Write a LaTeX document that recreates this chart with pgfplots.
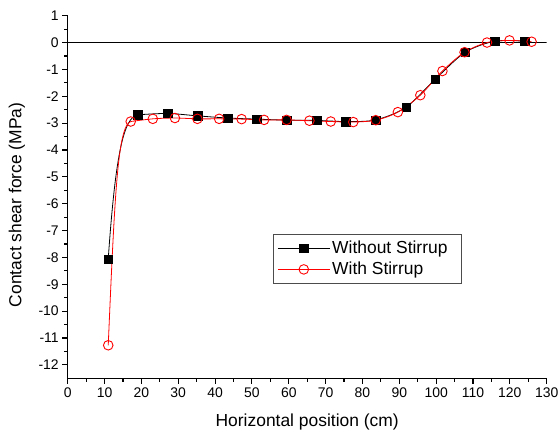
\documentclass[border=0pt]{standalone}
\usepackage{pgfplots}
\pgfplotsset{compat=1.18}
\usepackage{fontspec}
\setmainfont{Liberation Sans}
\begin{document}
\begin{tikzpicture}
\path[use as bounding box] (-67.7bp,-54.7bp) rectangle (491.3bp,378.3bp);
\begin{axis}[
  at={(0,0)}, anchor=south west,
  scale only axis,
  width=479bp, height=362.6bp,
  xmin=0, xmax=130, ymin=-12.5, ymax=1,
  xtick={0,10,...,130}, ytick={-12,-11,...,1},
  minor x tick num=1, minor y tick num=1,
  axis x line*=bottom, axis y line*=left,
  tick align=outside,
  major tick length=5.5bp, minor tick length=3.2bp,
  axis line style={line width=1.4bp},
  every tick/.style={line width=1.1bp, black},
  /pgf/number format/assume math mode=true,
  tick label style={font=\fontsize{14}{16}\selectfont},
  xlabel={Horizontal position (cm)},
  ylabel={Contact shear force (MPa)},
  label style={font=\fontsize{17.5}{20}\selectfont},
  xlabel style={at={(axis description cs:0.5,-0.1205)}, anchor=center},
  ylabel style={at={(axis description cs:-0.106,0.478)}, anchor=center, rotate=0},
  legend style={at={(0.4286,0.397)}, anchor=north west, draw=black!70, line width=0.8bp,
    font=\fontsize{17.5}{20}\selectfont, inner xsep=4bp, inner ysep=4.5bp, row sep=3bp},
  legend cell align=left,
  legend image code/.code={\draw[mark repeat=2,mark phase=2,#1] plot coordinates {(0bp,0bp)(26bp,0bp)(52bp,0bp)};},
]
\addplot[black, line width=0.8bp, forget plot] coordinates {(0,0)(130,0)};
% Without Stirrup
\draw[black, line width=0.8bp] (axis cs:11,-8.06) .. controls +(86:100bp) and +(190:15bp) .. (axis cs:19,-2.69);
\addplot[black, line width=0.8bp, smooth, tension=0.5, forget plot]
coordinates {(19,-2.69)(27.1,-2.64)(35.3,-2.73)(43.4,-2.81)(51.3,-2.85)(59.4,-2.89)(67.6,-2.90)(75.5,-2.94)(83.6,-2.88)(91.8,-2.41)(99.7,-1.37)(107.8,-0.37)(115.9,0.05)(124,0.05)};
\addplot[black, only marks, mark=square*, mark size=4.2bp, mark options={solid, fill=black}, forget plot]
coordinates {(11,-8.06)(19,-2.69)(27.1,-2.64)(35.3,-2.73)(43.4,-2.81)(51.3,-2.85)(59.4,-2.89)(67.6,-2.90)(75.5,-2.94)(83.6,-2.88)(91.8,-2.41)(99.7,-1.37)(107.8,-0.37)(115.9,0.05)(124,0.05)};
% With Stirrup
\draw[red, line width=0.8bp] (axis cs:11,-11.27) .. controls +(87.5:150bp) and +(200:14bp) .. (axis cs:17.1,-2.94);
\addplot[red, line width=0.8bp, smooth, tension=0.5, forget plot]
coordinates {(17.1,-2.94)(23.1,-2.84)(29.1,-2.81)(35.2,-2.84)(41.1,-2.84)(47.2,-2.85)(53.3,-2.88)(59.4,-2.88)(65.6,-2.91)(71.4,-2.94)(77.5,-2.96)(83.6,-2.89)(89.6,-2.59)(95.7,-1.96)(101.7,-1.06)(107.7,-0.36)(113.8,0.0)(119.9,0.08)(125.9,0.03)};
\addplot[red, only marks, mark=o, mark size=4.8bp, mark options={solid, fill=white, draw=red, line width=0.9bp}, forget plot]
coordinates {(11,-11.27)(17.1,-2.94)(23.1,-2.84)(29.1,-2.81)(35.2,-2.84)(41.1,-2.84)(47.2,-2.85)(53.3,-2.88)(59.4,-2.88)(65.6,-2.91)(71.4,-2.94)(77.5,-2.96)(83.6,-2.89)(89.6,-2.59)(95.7,-1.96)(101.7,-1.06)(107.7,-0.36)(113.8,0.0)(119.9,0.08)(125.9,0.03)};
\addlegendimage{black, line width=0.8bp, mark=square*, mark size=4.2bp, mark options={solid, fill=black}}
\addlegendentry{Without Stirrup\hspace*{8bp}}
\addlegendimage{red, line width=0.8bp, mark=o, mark size=4.8bp, mark options={solid, fill=white, draw=red, line width=0.9bp}}
\addlegendentry{With Stirrup}
\end{axis}
\end{tikzpicture}
\end{document}
